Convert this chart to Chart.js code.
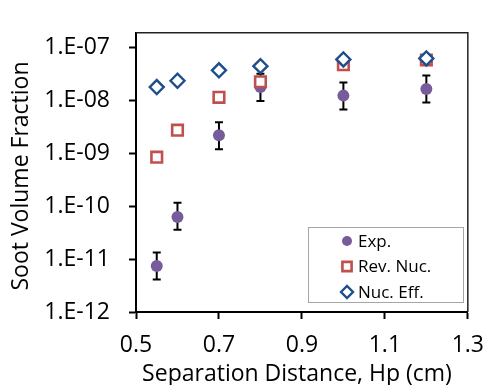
<!DOCTYPE html>
<html>
<head>
<meta charset="utf-8">
<script src="https://cdn.jsdelivr.net/npm/chart.js@4/dist/chart.umd.min.js"></script>
<style>
  html, body { margin: 0; padding: 0; background: #fff; }
  #wrap { width: 497px; height: 385px; }
</style>
</head>
<body>
<div id="wrap"><canvas id="chart" width="497" height="385"></canvas></div>
<script>
// values
const distances = [0.55, 0.6, 0.7, 0.8, 1.0, 1.2];
const expValues = [7.4e-12, 6.3e-11, 2.2e-9, 1.8e-8, 1.24e-8, 1.66e-8];
const expErrLow = [4.1e-12, 3.6e-11, 1.2e-9, 9.8e-9, 6.8e-9, 9.2e-9];
const expErrHigh = [1.33e-11, 1.16e-10, 3.9e-9, 3.2e-8, 2.2e-8, 2.98e-8];
const revNucValues = [8.5e-10, 2.75e-9, 1.15e-8, 2.27e-8, 4.77e-8, 5.85e-8];
const nucEffValues = [1.8e-8, 2.37e-8, 3.74e-8, 4.48e-8, 6.0e-8, 6.26e-8];

const xTickValues = [0.5, 0.7, 0.9, 1.1, 1.3];
const xTickLabels = ['0.5', '0.7', '0.9', '1.1', '1.3'];
const yTickValues = [1e-12, 1e-11, 1e-10, 1e-9, 1e-8, 1e-7];
const yTickLabels = ['1.E-12', '1.E-11', '1.E-10', '1.E-09', '1.E-08', '1.E-07'];

const legendLabels = ['Exp.', 'Rev. Nuc.', 'Nuc. Eff.'];

const FONT = "'Open Sans', sans-serif";
const PURPLE = '#775c9c';
const RED = '#c0504d';
const BLUE = '#1f4e8c';

const toPoints = vals => vals.map((v, i) => ({ x: distances[i], y: v }));

// error bars for the measured points, drawn under the markers
const errorBars = {
    id: 'errorBars',
    beforeDatasetsDraw(chart) {
        const { ctx, scales: { x, y } } = chart;
        ctx.save();
        ctx.strokeStyle = '#000';
        ctx.lineWidth = 2;
        distances.forEach((d, i) => {
            const px = x.getPixelForValue(d);
            const top = y.getPixelForValue(expErrHigh[i]);
            const bot = y.getPixelForValue(expErrLow[i]);
            ctx.beginPath();
            ctx.moveTo(px, top); ctx.lineTo(px, bot);
            ctx.moveTo(px - 4, top); ctx.lineTo(px + 4, top);
            ctx.moveTo(px - 4, bot); ctx.lineTo(px + 4, bot);
            ctx.stroke();
        });
        ctx.restore();
    }
};

// frame, axis titles and the inset legend
const decorations = {
    id: 'decorations',
    afterDraw(chart) {
        const { ctx, chartArea: a } = chart;
        ctx.save();
        ctx.strokeStyle = '#222';
        ctx.lineWidth = 1.5;
        ctx.beginPath();
        ctx.moveTo(a.left, a.top); ctx.lineTo(a.right, a.top); ctx.lineTo(a.right, a.bottom);
        ctx.stroke();

        ctx.fillStyle = '#000';
        ctx.font = '23px ' + FONT;
        ctx.textAlign = 'center';
        ctx.textBaseline = 'middle';
        ctx.fillText('Separation Distance, Hp (cm)', 297, 374);
        ctx.translate(21, 176);
        ctx.rotate(-Math.PI / 2);
        ctx.fillText('Soot Volume Fraction', 0, 0);
        ctx.restore();

        // legend box
        ctx.save();
        ctx.fillStyle = '#fff';
        ctx.fillRect(308, 227, 156, 76);
        ctx.strokeStyle = '#a6a6a6';
        ctx.lineWidth = 1;
        ctx.strokeRect(308.5, 227.5, 155, 75);
        const ds = chart.data.datasets;
        ctx.font = '17px ' + FONT;
        ctx.textAlign = 'left';
        ctx.textBaseline = 'middle';
        [0, 1, 2].forEach(i => {
            const cy = 241 + i * 25.5;
            const d = ds[i];
            ctx.fillStyle = d.backgroundColor;
            ctx.strokeStyle = d.borderColor;
            ctx.lineWidth = d.borderWidth;
            Chart.helpers.drawPoint(ctx, { pointStyle: d.pointStyle, radius: d.legendRadius, borderWidth: d.borderWidth, rotation: 0 }, 347, cy);
            ctx.fillStyle = '#000';
            ctx.fillText(legendLabels[i], 358, cy + 1);
        });
        ctx.restore();
    }
};

new Chart(document.getElementById('chart'), {
    type: 'scatter',
    data: {
        datasets: [
            {
                label: legendLabels[0],
                data: toPoints(expValues),
                pointStyle: 'circle',
                pointRadius: 6,
                legendRadius: 5,
                backgroundColor: PURPLE,
                borderColor: PURPLE,
                borderWidth: 0,
                order: 3
            },
            {
                label: legendLabels[1],
                data: toPoints(revNucValues),
                pointStyle: 'rect',
                pointRadius: 7.5,
                legendRadius: 6.5,
                backgroundColor: '#fff',
                borderColor: RED,
                borderWidth: 2.6,
                order: 2
            },
            {
                label: legendLabels[2],
                data: toPoints(nucEffValues),
                pointStyle: 'rectRot',
                pointRadius: 7,
                legendRadius: 6,
                backgroundColor: '#fff',
                borderColor: BLUE,
                borderWidth: 2.4,
                order: 1
            }
        ]
    },
    options: {
        responsive: false,
        animation: false,
        layout: { padding: { left: 0, top: 12, right: 18, bottom: 0 } },
        plugins: {
            legend: { display: false },
            tooltip: { enabled: false }
        },
        scales: {
            x: {
                type: 'linear',
                min: 0.5,
                max: 1.3,
                afterBuildTicks: s => { s.ticks = xTickValues.map(v => ({ value: v })); },
                afterFit: s => { s.height = 73; },
                grid: { drawOnChartArea: false, drawTicks: true, tickLength: 7, tickColor: '#000', tickWidth: 2 },
                border: { color: '#000', width: 2 },
                ticks: {
                    color: '#000',
                    font: { family: FONT, size: 23 },
                    padding: 13,
                    maxRotation: 0,
                    callback: (v, i) => xTickLabels[i]
                }
            },
            y: {
                type: 'logarithmic',
                min: 1e-12,
                max: 1.914e-7,
                afterBuildTicks: s => { s.ticks = yTickValues.map(v => ({ value: v })); },
                afterFit: s => { s.width = 136; },
                grid: { drawOnChartArea: false, drawTicks: true, tickLength: 7, tickColor: '#000', tickWidth: 2 },
                border: { color: '#000', width: 2 },
                ticks: {
                    color: '#000',
                    font: { family: FONT, size: 23 },
                    padding: 19,
                    callback: (v, i) => yTickLabels[i]
                }
            }
        }
    },
    plugins: [errorBars, decorations]
});
</script>
</body>
</html>
